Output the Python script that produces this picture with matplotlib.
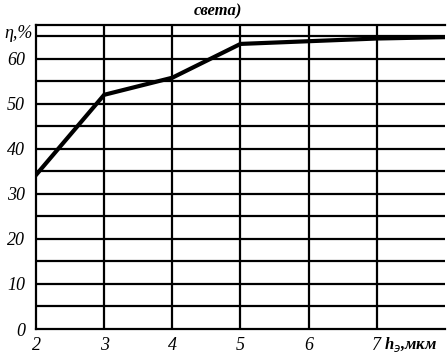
import numpy as np
import matplotlib.pyplot as plt

# data
h = [2, 3, 4, 5, 6, 7, 8]
eta = [34.2, 52.0, 55.8, 63.3, 63.9, 64.5, 64.8]

xticks = [2, 3, 4, 5, 6, 7]
yticks = [0, 10, 20, 30, 40, 50, 60]

fig = plt.figure(figsize=(4.47, 3.53), dpi=100)
ax = fig.add_axes([36 / 447, 1 - 329 / 353, 409 / 447, 304 / 353])

font = dict(family='Liberation Serif', style='italic', size=13)

ax.set_xlim(2, 8)
ax.set_ylim(0, 67.5)

# grid
for xv in range(3, 8):
    ax.axvline(xv, color='black', lw=1.6, zorder=1)
for yv in np.arange(5, 66, 5):
    ax.axhline(yv, color='black', lw=1.6, zorder=1)
ax.axhline(67.5, color='black', lw=1.6, clip_on=False)

ax.plot(h, eta, color='black', lw=3.0, zorder=3, solid_joinstyle='miter')

for s in ['top', 'right']:
    ax.spines[s].set_visible(False)
for s in ['left', 'bottom']:
    ax.spines[s].set_linewidth(1.6)

ax.set_xticks(xticks)
ax.set_xticklabels([str(v) for v in xticks], fontdict=font)
ax.set_yticks(yticks)
ax.set_yticklabels([str(v) for v in yticks], fontdict=font)
ax.tick_params(axis='x', length=0, pad=6)
ax.tick_params(axis='y', length=0, pad=8)

fig.text(4 / 447, 1 - 33 / 353, 'η,%', ha='left', va='center', fontdict=font)
fig.text(384 / 447, 1 - 345 / 353, r'h$_{э}$,мкм', ha='left', va='center',
         fontdict=dict(font, weight='bold', size=12))
fig.text(218 / 447, 0.99, 'света)', ha='center', va='top',
         fontdict=dict(font, weight='bold', size=12))

fig.savefig('out.png', dpi=100)
